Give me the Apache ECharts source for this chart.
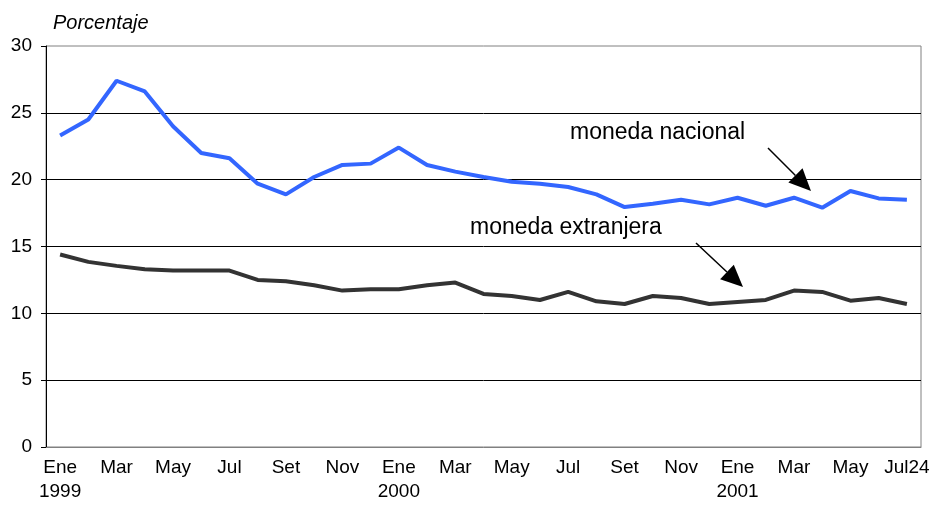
<!DOCTYPE html>
<html lang="es" style="height: 100%">

<head>
    <meta charset="utf-8">
    <title>Porcentaje</title>
    <script src="https://cdn.jsdelivr.net/npm/echarts@6/dist/echarts.min.js"></script>
</head>

<body style="height: 100%;margin: 0;background:#fff">
    <div id="main" style="width:935px;height:507px"></div>

    <script>
        // meses: Ene 1999 .. Jul 2001
        const meses = [
            'Ene\n1999', 'Feb', 'Mar', 'Abr', 'May', 'Jun', 'Jul', 'Ago', 'Set', 'Oct', 'Nov', 'Dic',
            'Ene\n2000', 'Feb', 'Mar', 'Abr', 'May', 'Jun', 'Jul', 'Ago', 'Set', 'Oct', 'Nov', 'Dic',
            'Ene\n2001', 'Feb', 'Mar', 'Abr', 'May', 'Jun', 'Jul24'
        ];
        const monedaNacional = [
            23.3, 24.5, 27.4, 26.6, 24.0, 22.0, 21.6, 19.7, 18.9, 20.2, 21.1, 21.2,
            22.4, 21.1, 20.6, 20.2, 19.85, 19.7, 19.45, 18.9, 17.95, 18.2, 18.5, 18.15,
            18.65, 18.05, 18.65, 17.9, 19.15, 18.6, 18.5
        ];
        const monedaExtranjera = [
            14.4, 13.85, 13.55, 13.3, 13.2, 13.2, 13.2, 12.5, 12.4, 12.1, 11.7, 11.8,
            11.8, 12.1, 12.3, 11.45, 11.3, 11.0, 11.6, 10.9, 10.7, 11.3, 11.15, 10.7,
            10.85, 11.0, 11.7, 11.6, 10.95, 11.15, 10.7
        ];

        const FONT = '"Liberation Sans", Arial, sans-serif';

        // flecha: linea + punta
        function flecha(sx, sy, tx, ty) {
            const dx = tx - sx, dy = ty - sy;
            const len = Math.sqrt(dx * dx + dy * dy);
            const ux = dx / len, uy = dy / len;
            const L = 22, w = 10;
            const bx = tx - L * ux, by = ty - L * uy;
            return [{
                type: 'line',
                shape: { x1: sx, y1: sy, x2: bx, y2: by },
                style: { stroke: '#000', lineWidth: 1.5 }
            }, {
                type: 'polygon',
                shape: { points: [[tx, ty], [bx - w * uy, by + w * ux], [bx + w * uy, by - w * ux]] },
                style: { fill: '#000' }
            }];
        }

        const myChart = echarts.init(document.getElementById('main'), null, { renderer: 'canvas' });

        const option = {
            animation: false,
            title: {
                text: 'Porcentaje',
                left: 48,
                top: 8,
                textStyle: { fontFamily: FONT, fontSize: 20, fontStyle: 'italic', fontWeight: 'normal', color: '#000' }
            },
            grid: {
                left: 46,
                right: 14,
                top: 46,
                bottom: 60,
                show: true,
                borderColor: '#808080',
                borderWidth: 1
            },
            xAxis: {
                type: 'category',
                data: meses,
                boundaryGap: true,
                axisLine: { lineStyle: { color: '#808080', width: 1 } },
                axisTick: { show: false },
                axisLabel: {
                    interval: 1,
                    margin: 9,
                    fontFamily: FONT,
                    fontSize: 19,
                    lineHeight: 24,
                    color: '#000'
                }
            },
            yAxis: {
                type: 'value',
                min: 0,
                max: 30,
                interval: 5,
                axisLine: { show: true, lineStyle: { color: '#000', width: 1 } },
                axisTick: { show: true, length: 5, lineStyle: { color: '#000' } },
                axisLabel: { margin: 14, fontFamily: FONT, fontSize: 19, color: '#000' },
                splitLine: { show: true, showMaxLine: false, showMinLine: false, lineStyle: { color: '#000', width: 1 } }
            },
            series: [{
                name: 'moneda nacional',
                type: 'line',
                data: monedaNacional,
                symbol: 'none',
                lineStyle: { color: '#3366FF', width: 4 }
            }, {
                name: 'moneda extranjera',
                type: 'line',
                data: monedaExtranjera,
                symbol: 'none',
                lineStyle: { color: '#333333', width: 4 }
            }],
            graphic: [
                {
                    type: 'text', left: 570, top: 121,
                    style: { text: 'moneda nacional', font: '23px ' + FONT, fill: '#000' }
                },
                {
                    type: 'text', left: 470, top: 216,
                    style: { text: 'moneda extranjera', font: '23px ' + FONT, fill: '#000' }
                },
                ...flecha(768, 148, 811, 191),
                ...flecha(696, 243, 743, 287)
            ]
        };

        myChart.setOption(option);
    </script>
</body>

</html>
